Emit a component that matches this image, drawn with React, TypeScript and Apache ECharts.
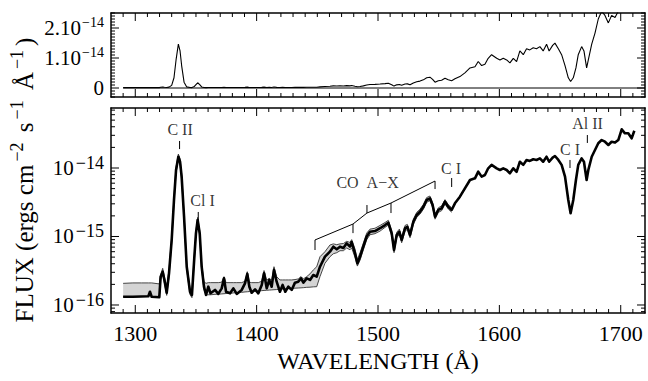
import { useEffect, useRef } from 'react';
import * as echarts from 'echarts';

// Flux in units of 1e-15 erg cm^-2 s^-1 Å^-1
const wavelength = [
  1290, 1298, 1305, 1310.8, 1312.1, 1313.5, 1319.8, 1320.9, 1322.6, 1324,
  1325.9, 1327.8, 1330, 1331.9, 1333.6, 1335.5, 1336.9, 1338.2, 1340.2, 1342.4,
  1345.1, 1346.7, 1348.7, 1350, 1351.4, 1353.1, 1354.7, 1356.6, 1358.3, 1360.2,
  1362, 1365.7, 1368.4, 1371.2, 1373.1, 1374.8, 1378.1, 1380.8, 1383.6, 1387.7,
  1390.4, 1392.3, 1394, 1395.9, 1398.7, 1401.4, 1404.2, 1406.1, 1408.3, 1410.4,
  1412.4, 1414.3, 1416.5, 1419.2, 1421.4, 1423.6, 1426.1, 1428.9, 1431.6, 1434.3,
  1436.6, 1438.5, 1441.3, 1444, 1446.7, 1449.5, 1452.2, 1456.3, 1460.4, 1463.2,
  1466, 1468.7, 1471.5, 1474.2, 1476.9, 1478.3, 1481, 1483, 1485.2, 1487.9,
  1490.7, 1493.4, 1497.5, 1501.7, 1505.8, 1508.5, 1511.3, 1513.2, 1515.4, 1517.6,
  1519.5, 1522.3, 1524.2, 1526.4, 1529.1, 1531.9, 1534.6, 1537.4, 1540.1, 1542.8,
  1545, 1547, 1549.7, 1552.4, 1555.2, 1557.9, 1560.7, 1563.4, 1567.5, 1571.6,
  1575.8, 1579.9, 1582.6, 1585.4, 1588.1, 1590.8, 1593.6, 1597.8, 1600.5, 1603.2,
  1606, 1608.7, 1611.5, 1614.2, 1616.9, 1619.7, 1622.4, 1625.1, 1627.9, 1630.6,
  1633.4, 1636.1, 1638.9, 1641, 1643.9, 1645.8, 1648.6, 1651.3, 1654.1, 1656.8,
  1658.7, 1660.9, 1663.1, 1665, 1667.8, 1669.7, 1671.9, 1673.3, 1676.1, 1678.8,
  1681.5, 1684.3, 1687, 1689.8, 1692.5, 1695.3, 1698, 1700.8, 1703.5, 1706.2,
  1709, 1711.2,
];
const flux = [
  0.132, 0.132, 0.133, 0.134, 0.156, 0.132, 0.13, 0.259, 0.306, 0.232,
  0.151, 0.29, 0.889, 3.41, 9.35, 14.6, 12.35, 7.48, 1.94, 0.362,
  0.156, 0.14, 0.507, 1.11, 1.74, 1.11, 0.362, 0.185, 0.14, 0.185,
  0.148, 0.166, 0.145, 0.175, 0.245, 0.156, 0.148, 0.175, 0.145, 0.166,
  0.207, 0.284, 0.185, 0.151, 0.169, 0.148, 0.196, 0.29, 0.175, 0.232,
  0.185, 0.325, 0.219, 0.156, 0.196, 0.156, 0.185, 0.166, 0.212, 0.219,
  0.245, 0.212, 0.245, 0.232, 0.274, 0.259, 0.362, 0.507, 0.6, 0.71,
  0.65, 0.71, 0.68, 0.795, 0.71, 0.83, 0.57, 0.406, 0.507, 0.71,
  1.0, 1.17, 1.2, 1.32, 1.47, 1.59, 1.11, 0.635, 1.05, 1.17,
  0.889, 1.32, 1.38, 1.05, 1.64, 2.06, 2.3, 2.72, 3.41, 3.61,
  2.88, 1.94, 2.44, 2.58, 3.22, 2.72, 2.44, 3.05, 3.81, 5.05,
  6.68, 7.07, 8.83, 7.48, 7.9, 9.9, 11.1, 9.9, 9.35, 9.9,
  9.35, 8.37, 9.9, 8.8, 12.35, 11.1, 13.1, 12.7, 13.4, 13.1,
  13.8, 12.35, 14.6, 12.35, 14.2, 14.96, 13.1, 11.1, 7.48, 3.41,
  2.18, 3.41, 6.68, 11.1, 13.8, 12.35, 6.68, 9.35, 14.6, 18.3,
  23.0, 25.6, 24.2, 21.7, 24.2, 23.5, 25.6, 36.7, 32.1, 32.1,
  27.1, 35.0,
];
// Uncertainty band (same wavelengths, first 107 points)
const bandUpper = [
  0.207, 0.21, 0.21, 0.21, 0.21, 0.21, 0.203, 0.276, 0.343, 0.259,
  0.185, 0.325, 1.0, 3.8, 10.3, 16.0, 13.6, 8.2, 2.15, 0.4,
  0.175, 0.16, 0.56, 1.22, 1.9, 1.22, 0.4, 0.219, 0.207, 0.212,
  0.212, 0.212, 0.212, 0.215, 0.259, 0.212, 0.212, 0.212, 0.212, 0.212,
  0.222, 0.306, 0.215, 0.212, 0.212, 0.212, 0.222, 0.318, 0.23, 0.245,
  0.23, 0.362, 0.259, 0.232, 0.232, 0.232, 0.232, 0.232, 0.235, 0.24,
  0.26, 0.24, 0.26, 0.285, 0.325, 0.362, 0.507, 0.6, 0.751, 0.78,
  0.76, 0.78, 0.79, 0.85, 0.82, 0.9, 0.66, 0.46, 0.58, 0.8,
  1.12, 1.28, 1.32, 1.45, 1.6, 1.72, 1.22, 0.72, 1.15, 1.28,
  0.98, 1.45, 1.5, 1.15, 1.78, 2.25, 2.5, 2.95, 3.7, 3.9,
  3.1, 2.1, 2.62, 2.8, 3.45, 2.92, 2.62,
];
const bandLower = [
  0.132, 0.132, 0.133, 0.134, 0.15, 0.132, 0.13, 0.235, 0.28, 0.21,
  0.138, 0.26, 0.8, 3.1, 8.5, 13.3, 11.2, 6.8, 1.76, 0.33,
  0.142, 0.128, 0.46, 1.01, 1.58, 1.01, 0.33, 0.168, 0.14, 0.141,
  0.141, 0.143, 0.144, 0.145, 0.146, 0.147, 0.148, 0.15, 0.151, 0.153,
  0.155, 0.156, 0.157, 0.158, 0.159, 0.16, 0.162, 0.163, 0.164, 0.165,
  0.166, 0.167, 0.168, 0.17, 0.171, 0.172, 0.173, 0.175, 0.176, 0.177,
  0.178, 0.179, 0.181, 0.182, 0.184, 0.185, 0.26, 0.406, 0.507, 0.56,
  0.58, 0.62, 0.62, 0.68, 0.64, 0.68, 0.5, 0.37, 0.45, 0.64,
  0.9, 1.06, 1.1, 1.2, 1.36, 1.47, 1.02, 0.58, 0.96, 1.07,
  0.81, 1.2, 1.27, 0.96, 1.5, 1.9, 2.12, 2.5, 3.15, 3.35,
  2.66, 1.79, 2.25, 2.38, 2.98, 2.52, 2.26,
];
const zeroLine = [[1290, 0], [1720, 0]];

const xMajorTicks = [1300, 1400, 1500, 1600, 1700];
const xMinorTicks = [
  1290, 1310, 1320, 1330, 1340, 1350, 1360, 1370, 1380, 1390,
  1410, 1420, 1430, 1440, 1450, 1460, 1470, 1480, 1490,
  1510, 1520, 1530, 1540, 1550, 1560, 1570, 1580, 1590,
  1610, 1620, 1630, 1640, 1650, 1660, 1670, 1680, 1690,
  1710,
];
const topMajorTicks = [0, 10, 20];
const topMinorTicks = [
  -3, -2, -1, 1, 2, 3, 4, 5, 6, 7, 8, 9, 11, 12, 13, 14, 15, 16, 17, 18, 19,
  21, 22, 23, 24, 25,
];
const logMajorTicks = [0.1, 1, 10];
const logMinorTicks = [
  0.08, 0.09, 0.2, 0.3, 0.4, 0.5, 0.6, 0.7, 0.8, 0.9,
  2, 3, 4, 5, 6, 7, 8, 9, 20, 30, 40, 50, 60, 70,
];

const lineLabels = ['C II', 'Cl I', 'CO\u2002A\u2212X', 'C I', 'C I', 'Al II'];
const lineLabelPositions = [
  [1336.9, 35.9], [1355.4, 3.3], [1491.4, 6.04], [1560.2, 9.67], [1658.2, 18.9], [1672.6, 43.9],
];
const lineMarkers = [
  [[1336.5, 24.8], [1336.5, 18.9]],
  [[1351.9, 2.28], [1351.9, 1.74]],
  [[1560.7, 7.14], [1560.7, 5.28]],
  [[1658.2, 13.1], [1658.2, 10.0]],
  [[1672.5, 30.3], [1672.5, 23.2]],
];
const coBracket = [
  [1448.1, 0.635], [1448.1, 0.89], [1479.4, 1.52], [1490.9, 2.2], [1510.7, 3.08], [1547.0, 6.45], [1547.0, 4.93],
];
const coBandTicks = [
  [[1479.4, 1.52], [1479.4, 1.12]],
  [[1490.9, 2.2], [1490.9, 2.88]],
  [[1510.7, 3.08], [1510.7, 2.2]],
];

const FONT = "'Liberation Serif', 'Times New Roman', Times, serif";
const X_MIN = 1280;
const X_MAX = 1720;
const TOP_MIN = -3;
const TOP_MAX = 25;
const LOG_MIN = -1.117;
const LOG_MAX = 1.876;
const MAJOR_LEN = 8;
const MINOR_LEN = 4;

const lg = (v: number) => Math.log10(v);
const frame = { color: '#000', width: 1.5 };

function frameAxes(grid: number, kind: 'x' | 'y', min: number, max: number, first: any) {
  const base: any = {
    gridIndex: grid, type: 'value', min, max, splitLine: { show: false }, z: 6,
    axisLine: { show: true, onZero: false, lineStyle: frame },
    axisTick: { show: false },
  };
  const p1 = kind === 'x' ? 'bottom' : 'left';
  const p2 = kind === 'x' ? 'top' : 'right';
  return [
    { ...base, position: p1, ...first },
    { ...base, position: p2, axisLabel: { show: false } },
  ];
}

// Ticks drawn through the axes' own scales (inward, on all four sides)
function xTickSeries(xi: number, yi: number, ticks: number[], yLo: number, yHi: number, len: number) {
  return {
    type: 'custom', xAxisIndex: xi, yAxisIndex: yi, silent: true, z: 7, clip: false,
    data: ticks.map((t) => [t, yLo]),
    renderItem: (_p: any, api: any) => {
      const v = api.value(0);
      const b = api.coord([v, yLo]);
      const t = api.coord([v, yHi]);
      return {
        type: 'group',
        children: [
          { type: 'line', shape: { x1: b[0], y1: b[1], x2: b[0], y2: b[1] - len }, style: { stroke: '#000', lineWidth: 1 } },
          { type: 'line', shape: { x1: t[0], y1: t[1], x2: t[0], y2: t[1] + len }, style: { stroke: '#000', lineWidth: 1 } },
        ],
      };
    },
  };
}
function yTickSeries(xi: number, yi: number, ticks: number[], len: number) {
  return {
    type: 'custom', xAxisIndex: xi, yAxisIndex: yi, silent: true, z: 7, clip: false,
    data: ticks.map((t) => [X_MIN, t]),
    renderItem: (_p: any, api: any) => {
      const v = api.value(1);
      const l = api.coord([X_MIN, v]);
      const r = api.coord([X_MAX, v]);
      return {
        type: 'group',
        children: [
          { type: 'line', shape: { x1: l[0], y1: l[1], x2: l[0] + len, y2: l[1] }, style: { stroke: '#000', lineWidth: 1 } },
          { type: 'line', shape: { x1: r[0] - len, y1: r[1], x2: r[0], y2: r[1] }, style: { stroke: '#000', lineWidth: 1 } },
        ],
      };
    },
  };
}

const topRich = {
  b: { fontSize: 21, fontFamily: FONT, color: '#000', lineHeight: 26, verticalAlign: 'middle' },
  s: { fontSize: 14, fontFamily: FONT, color: '#000', lineHeight: 14, verticalAlign: 'top', padding: [0, 0, 0, 1] },
};
const logRich = {
  b: { fontSize: 21, fontFamily: FONT, color: '#000', lineHeight: 28, verticalAlign: 'middle' },
  s: { fontSize: 18, fontFamily: FONT, color: '#000', lineHeight: 18, verticalAlign: 'top', padding: [0, 0, 0, 2] },
};

function buildOption() {
  const spectrumLinear = wavelength.map((w, i) => [w, flux[i]]);
  const spectrumLog = wavelength.map((w, i) => [w, lg(flux[i])]);
  const bandWave = wavelength.slice(0, bandUpper.length);
  const upperLog = bandWave.map((w, i) => [w, lg(bandUpper[i])]);
  const lowerLog = bandWave.map((w, i) => [w, lg(bandLower[i])]);

  const segSeries = (pts: number[][]) => ({
    type: 'line', xAxisIndex: 2, yAxisIndex: 2,
    data: pts.map((p) => [p[0], lg(p[1])]),
    symbol: 'none', silent: true, z: 4,
    lineStyle: { color: '#000', width: 1 },
  });

  return {
    animation: false,
    backgroundColor: '#fff',
    grid: [
      { left: 111, right: 3, top: 13, height: 84, outerBoundsMode: 'none' },
      { left: 111, right: 3, top: 108, height: 205, outerBoundsMode: 'none' },
    ],
    xAxis: [
      ...frameAxes(0, 'x', X_MIN, X_MAX, { axisLabel: { show: false } }),
      ...frameAxes(1, 'x', X_MIN, X_MAX, {
        axisLabel: {
          show: true, customValues: xMajorTicks, margin: 9, fontSize: 22, fontFamily: FONT, color: '#000',
          formatter: (v: number) => String(v),
        },
        name: 'WAVELENGTH (Å)',
        nameLocation: 'middle',
        nameGap: 36,
        nameTextStyle: { fontSize: 24, fontFamily: FONT, color: '#000' },
      }),
    ],
    yAxis: [
      ...frameAxes(0, 'y', TOP_MIN, TOP_MAX, {
        axisLabel: {
          show: true, customValues: topMajorTicks, margin: 7, color: '#000', fontFamily: FONT, rich: topRich,
          formatter: (v: number) => (v === 0 ? '{b|0}' : `{b|${Math.round(v / 10)}.10}{s|\u221214}`),
        },
      }),
      ...frameAxes(1, 'y', LOG_MIN, LOG_MAX, {
        axisLabel: {
          show: true, customValues: logMajorTicks.map(lg), margin: 7, color: '#000', fontFamily: FONT, rich: logRich,
          formatter: (v: number) => `{b|10}{s|\u2212${15 - Math.round(v)}}`,
        },
      }),
    ],
    graphic: [
      {
        type: 'text',
        x: 24,
        y: 180,
        rotation: Math.PI / 2,
        style: {
          text: '{a|FLUX (ergs cm}{s|\u22122}{a| s}{s|\u22121}{a| Å}{s|\u22121}{a|)}',
          align: 'center',
          verticalAlign: 'middle',
          rich: {
            a: { fontSize: 25, fontFamily: FONT, fill: '#000', lineHeight: 32, verticalAlign: 'middle' },
            s: { fontSize: 18, fontFamily: FONT, fill: '#000', lineHeight: 18, verticalAlign: 'top', padding: [0, 4, 0, 3] },
          },
        },
      },
    ],
    series: [
      // top panel
      {
        type: 'line', xAxisIndex: 0, yAxisIndex: 0, data: zeroLine, symbol: 'none', silent: true,
        lineStyle: { color: '#000', width: 1 }, z: 3,
      },
      {
        type: 'line', xAxisIndex: 0, yAxisIndex: 0, data: spectrumLinear, symbol: 'none', silent: true,
        lineStyle: { color: '#000', width: 1.1 }, z: 3, clip: true,
      },
      xTickSeries(0, 0, xMajorTicks, TOP_MIN, TOP_MAX, MAJOR_LEN),
      xTickSeries(0, 0, xMinorTicks, TOP_MIN, TOP_MAX, MINOR_LEN),
      yTickSeries(0, 0, topMajorTicks, MAJOR_LEN),
      yTickSeries(0, 0, topMinorTicks, MINOR_LEN),
      // bottom panel: shaded band
      {
        type: 'custom', xAxisIndex: 2, yAxisIndex: 2, silent: true, z: 1, clip: true,
        data: upperLog,
        renderItem: (p: any, api: any) => {
          if (p.dataIndex !== 0) return null;
          const pts = [
            ...upperLog.map((q) => api.coord(q)),
            ...lowerLog.slice().reverse().map((q) => api.coord(q)),
          ];
          return { type: 'polygon', shape: { points: pts }, style: { fill: '#d4d4d4', stroke: 'none' } };
        },
      },
      {
        type: 'line', xAxisIndex: 2, yAxisIndex: 2, data: upperLog, symbol: 'none', silent: true,
        lineStyle: { color: '#333', width: 0.9 }, z: 2,
      },
      {
        type: 'line', xAxisIndex: 2, yAxisIndex: 2, data: lowerLog, symbol: 'none', silent: true,
        lineStyle: { color: '#333', width: 0.9 }, z: 2,
      },
      {
        type: 'line', xAxisIndex: 2, yAxisIndex: 2, data: spectrumLog, symbol: 'none', silent: true,
        lineStyle: { color: '#000', width: 2.6, join: 'round' }, z: 3,
      },
      segSeries(coBracket),
      ...coBandTicks.map(segSeries),
      ...lineMarkers.map(segSeries),
      xTickSeries(2, 2, xMajorTicks, LOG_MIN, LOG_MAX, MAJOR_LEN),
      xTickSeries(2, 2, xMinorTicks, LOG_MIN, LOG_MAX, MINOR_LEN),
      yTickSeries(2, 2, logMajorTicks.map(lg), MAJOR_LEN),
      yTickSeries(2, 2, logMinorTicks.map(lg), MINOR_LEN),
      {
        type: 'scatter', xAxisIndex: 2, yAxisIndex: 2, silent: true, z: 5,
        symbolSize: 1,
        itemStyle: { color: 'rgba(0,0,0,0)' },
        data: lineLabels.map((name, i) => ({ name, value: [lineLabelPositions[i][0], lg(lineLabelPositions[i][1])] })),
        label: {
          show: true, position: 'inside', formatter: (p: any) => p.name,
          fontSize: 16, fontFamily: FONT, color: '#000',
        },
      },
    ],
  };
}

export default function App() {
  const ref = useRef<HTMLDivElement>(null);
  useEffect(() => {
    document.body.style.margin = '0';
    const chart = echarts.init(ref.current as HTMLDivElement, undefined, { renderer: 'svg' });
    chart.setOption(buildOption() as any);
    return () => chart.dispose();
  }, []);
  return <div ref={ref} style={{ position: 'fixed', left: 0, top: 0, width: 648, height: 381 }} />;
}
